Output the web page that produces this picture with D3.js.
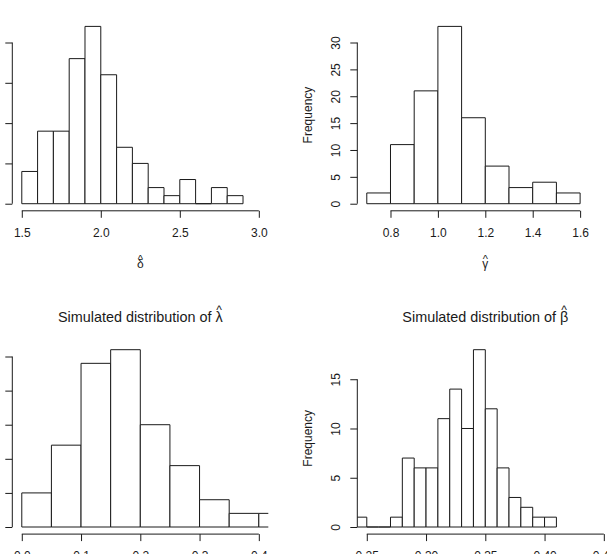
<!DOCTYPE html>
<html>
<head>
<meta charset="utf-8">
<script src="https://cdn.jsdelivr.net/npm/d3@7/dist/d3.min.js"></script>
<style>
  html, body { margin: 0; padding: 0; background: #fff; }
  svg { display: block; }
  text { font-family: "Liberation Sans", Arial, Helvetica, sans-serif; fill: #1a1a1a; }
</style>
</head>
<body>
<script>
// ---------- data ----------
const deltaBreaks  = [1.5, 1.6, 1.7, 1.8, 1.9, 2.0, 2.1, 2.2, 2.3, 2.4, 2.5, 2.6, 2.7, 2.8, 2.9];
const deltaCounts  = [4, 9, 9, 18, 22, 16, 7, 5, 2, 1, 3, 0, 2, 1];
const deltaXTicks  = [1.5, 2.0, 2.5, 3.0];
const deltaYTicks  = [0, 5, 10, 15, 20];

const gammaBreaks  = [0.7, 0.8, 0.9, 1.0, 1.1, 1.2, 1.3, 1.4, 1.5, 1.6];
const gammaCounts  = [2, 11, 21, 33, 16, 7, 3, 4, 2];
const gammaXTicks  = [0.8, 1.0, 1.2, 1.4, 1.6];
const gammaYTicks  = [0, 5, 10, 15, 20, 25, 30];

const lambdaBreaks = [0.0, 0.05, 0.1, 0.15, 0.2, 0.25, 0.3, 0.35, 0.4, 0.45];
const lambdaCounts = [5, 12, 24, 26, 15, 9, 4, 2, 2];
const lambdaXTicks = [0.0, 0.1, 0.2, 0.3, 0.4];
const lambdaYTicks = [0, 5, 10, 15, 20, 25];

const betaBreaks   = [0.24, 0.25, 0.26, 0.27, 0.28, 0.29, 0.30, 0.31, 0.32, 0.33, 0.34, 0.35, 0.36, 0.37, 0.38, 0.39, 0.40, 0.41];
const betaCounts   = [1, 0, 0, 1, 7, 6, 6, 11, 14, 10, 18, 12, 6, 3, 2, 1, 1];
const betaXTicks   = [0.25, 0.30, 0.35, 0.40, 0.45];
const betaYTicks   = [0, 5, 10, 15];

const symbols = { delta: "δ", gamma: "γ", lambda: "λ", beta: "β" };

// ---------- layout ----------
const W = 607, H = 554;
const PW = 256, PH = 191.5;

const panels = [
  { breaks: deltaBreaks,  counts: deltaCounts,  xlim: [1.5, 3.0],  xt: deltaXTicks,  yt: deltaYTicks,  fmt: d3.format(".1f"), left: 12.3,  bottom: 210.8, xlab: symbols.delta,  title: null },
  { breaks: gammaBreaks,  counts: gammaCounts,  xlim: [0.7, 1.7],  xt: gammaXTicks,  yt: gammaYTicks,  fmt: d3.format(".1f"), left: 357.3, bottom: 210.8, xlab: symbols.gamma,  title: null },
  { breaks: lambdaBreaks, counts: lambdaCounts, xlim: [0.0, 0.4],  xt: lambdaXTicks, yt: lambdaYTicks, fmt: d3.format(".1f"), left: 12.3,  bottom: 534.1, xlab: null, title: symbols.lambda },
  { breaks: betaBreaks,   counts: betaCounts,   xlim: [0.25, 0.45], xt: betaXTicks,  yt: betaYTicks,   fmt: d3.format(".2f"), left: 357.3, bottom: 534.1, xlab: null, title: symbols.beta }
];

const svg = d3.select("body").append("svg").attr("width", W).attr("height", H);
const ink = "#1a1a1a";

panels.forEach((p, i) => {
  const top = p.bottom - PH;
  const ext = (p.xlim[1] - p.xlim[0]) * 0.04;
  const x = d3.scaleLinear().domain([p.xlim[0] - ext, p.xlim[1] + ext]).range([p.left, p.left + PW]);
  const ymax = d3.max(p.counts);
  const y = d3.scaleLinear().domain([-0.04 * ymax, 1.04 * ymax]).range([p.bottom, top]);

  const g = svg.append("g");
  const clipId = "clip" + i;
  svg.append("clipPath").attr("id", clipId)
    .append("rect").attr("x", p.left).attr("y", top - 2).attr("width", PW).attr("height", PH + 4);

  // bars
  const bins = p.counts.map((c, k) => ({ x0: p.breaks[k], x1: p.breaks[k + 1], c }));
  g.append("g").attr("clip-path", `url(#${clipId})`)
    .selectAll("path").data(bins).join("path")
    .attr("d", d => `M${x(d.x0)},${y(0)}V${y(d.c)}H${x(d.x1)}V${y(0)}Z`)
    .attr("fill", "#fff").attr("stroke", ink).attr("stroke-width", 1);

  // x axis
  const xa = g.append("g").attr("transform", `translate(0,${p.bottom})`)
    .call(d3.axisBottom(x).tickValues(p.xt).tickFormat(p.fmt).tickSize(7).tickSizeOuter(0).tickPadding(10.4));
  xa.select(".domain").remove();
  xa.append("line").attr("x1", x(p.xt[0])).attr("x2", x(p.xt[p.xt.length - 1]))
    .attr("y1", 0).attr("y2", 0).attr("stroke", ink);
  xa.selectAll(".tick line").attr("stroke", ink);
  xa.selectAll(".tick text").attr("fill", ink).style("font-size", "12px").style("font-family", "'Liberation Sans', Arial, sans-serif");

  // y axis
  const ya = g.append("g").attr("transform", `translate(${p.left},0)`)
    .call(d3.axisLeft(y).tickValues(p.yt).tickSize(7).tickSizeOuter(0));
  ya.select(".domain").remove();
  ya.append("line").attr("x1", 0).attr("x2", 0)
    .attr("y1", y(p.yt[0])).attr("y2", y(p.yt[p.yt.length - 1])).attr("stroke", ink);
  ya.selectAll(".tick line").attr("stroke", ink);
  ya.selectAll(".tick text")
    .attr("transform", "rotate(-90)").attr("x", 0).attr("y", -21.5).attr("dy", "0.35em")
    .attr("text-anchor", "middle").attr("fill", ink)
    .style("font-size", "12px").style("font-family", "'Liberation Sans', Arial, sans-serif");

  // y label
  g.append("text")
    .attr("transform", `translate(${p.left - 50},${(top + p.bottom) / 2}) rotate(-90)`)
    .attr("text-anchor", "middle").attr("dy", "0.35em")
    .style("font-size", "12px").text("Frequency");

  const cx = p.left + PW / 2;
  // x label with hat
  if (p.xlab) {
    g.append("text").attr("x", cx).attr("y", p.bottom + 57).attr("text-anchor", "middle")
      .style("font-size", "12px").text(p.xlab);
    g.append("text").attr("x", cx).attr("y", p.bottom + 52).attr("text-anchor", "middle")
      .style("font-size", "11px").text("^");
  }
  // title with hat
  if (p.title) {
    const t = g.append("text").attr("x", cx).attr("y", top - 20.5).attr("text-anchor", "middle")
      .style("font-size", "14.4px").text("Simulated distribution of " + p.title);
    const n = t.node();
    const idx = n.getNumberOfChars() - 1;
    const ex = n.getExtentOfChar(idx);
    g.append("text").attr("x", ex.x + ex.width / 2).attr("y", top - 28.5).attr("text-anchor", "middle")
      .style("font-size", "12px").text("^");
  }
});
</script>
</body>
</html>
